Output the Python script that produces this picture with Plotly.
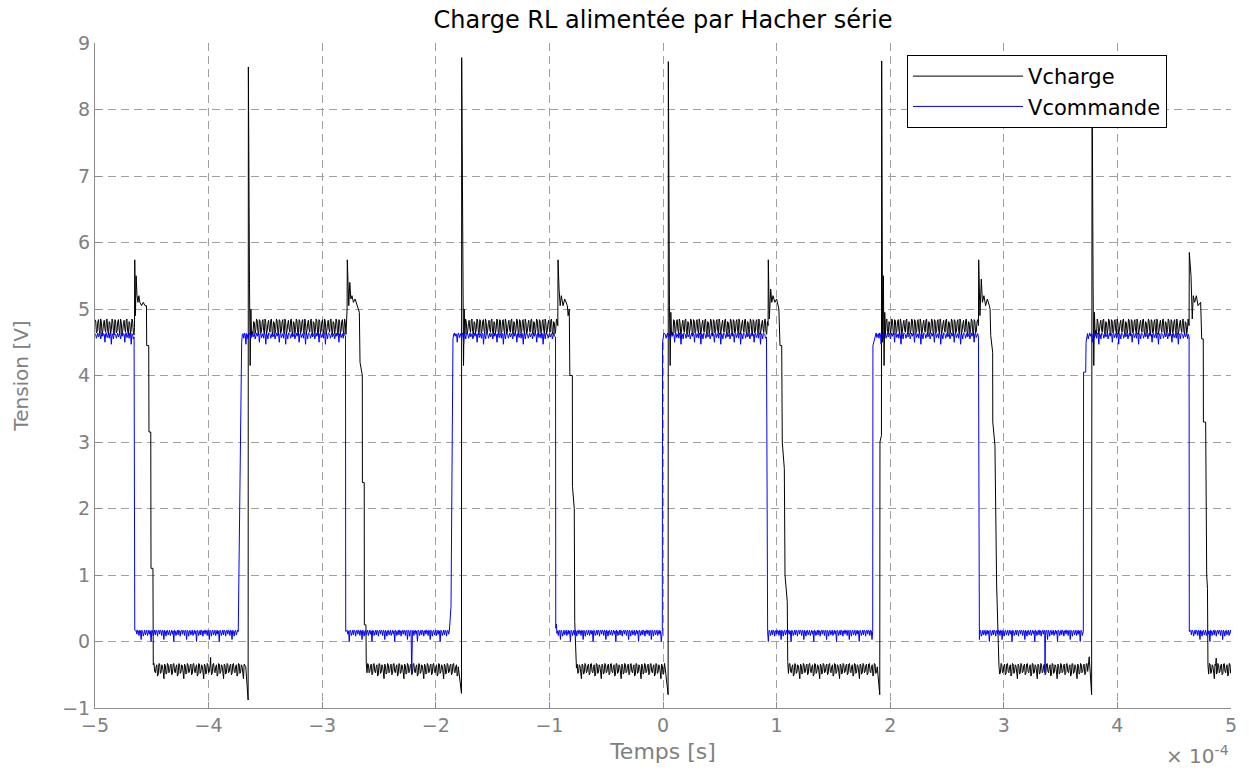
import plotly.graph_objects as go

# Time is expressed in units of 1e-4 s (the axis carries the "x 10^-4" factor).
T_START, T_END = -5.0, 5.0
DT = 0.00625  # spacing of the switching-ripple samples on the plateaus

X_TICKS = [-5, -4, -3, -2, -1, 0, 1, 2, 3, 4, 5]
Y_TICKS = [-1, 0, 1, 2, 3, 4, 5, 6, 7, 8, 9]

# ---------------- Vcharge (load voltage) ----------------
# Ripple samples on the "on" and "off" plateaus
CHARGE_HI_RIPPLE = [4.84, 4.82, 4.64, 4.66, 4.81, 4.84, 4.68, 4.63, 4.85, 4.80,
                    4.62, 4.67, 4.78, 4.83, 4.70, 4.65, 4.83, 4.85, 4.66, 4.62,
                    4.81, 4.79, 4.63, 4.69, 4.85, 4.82, 4.65, 4.61]
CHARGE_LO_RIPPLE = [-0.33, -0.35, -0.47, -0.45, -0.36, -0.34, -0.50, -0.48, -0.34, -0.33,
                    -0.45, -0.47, -0.38, -0.35, -0.52, -0.49, -0.33, -0.34, -0.48, -0.46,
                    -0.35, -0.37, -0.46, -0.56, -0.34, -0.36, -0.49, -0.47]

# Turn-off transitions: (time, voltage)
CHARGE_FALLS = [
    [(-4.652, 4.72), (-4.650, 5.74), (-4.644, 4.90), (-4.638, 5.50), (-4.630, 5.20),
     (-4.622, 5.10), (-4.614, 5.20), (-4.605, 5.10), (-4.590, 5.05), (-4.575, 5.10),
     (-4.560, 5.05), (-4.547, 5.05), (-4.545, 4.45), (-4.527, 4.45), (-4.525, 3.15),
     (-4.509, 3.15), (-4.507, 1.10), (-4.490, 1.10), (-4.487, -0.35)],
    [(-2.786, 4.75), (-2.781, 5.00), (-2.779, 5.74), (-2.766, 5.05), (-2.757, 5.40),
     (-2.748, 5.15), (-2.738, 5.20), (-2.725, 5.10), (-2.710, 5.15), (-2.691, 5.05),
     (-2.673, 4.95), (-2.667, 4.20), (-2.647, 4.00), (-2.646, 2.39), (-2.630, 2.39),
     (-2.629, 0.25), (-2.615, 0.25), (-2.612, -0.33)],
    [(-0.926, 4.75), (-0.924, 5.74), (-0.915, 5.30), (-0.905, 5.05), (-0.895, 5.20),
     (-0.880, 5.05), (-0.865, 5.15), (-0.842, 5.05), (-0.835, 4.90), (-0.825, 5.00),
     (-0.820, 4.00), (-0.798, 4.00), (-0.797, 2.33), (-0.781, 2.00), (-0.777, 0.30),
     (-0.768, -0.25), (-0.762, -0.40)],
    [(0.925, 4.75), (0.927, 5.74), (0.936, 4.85), (0.948, 5.30), (0.958, 5.10),
     (0.968, 5.20), (0.985, 5.10), (1.000, 5.15), (1.020, 5.00), (1.030, 4.45),
     (1.045, 4.45), (1.050, 3.00), (1.068, 2.60), (1.074, 1.00), (1.094, 0.60),
     (1.098, -0.30)],
    [(2.777, 4.75), (2.779, 5.74), (2.790, 4.90), (2.802, 5.45), (2.812, 5.10),
     (2.825, 5.20), (2.840, 5.05), (2.855, 5.15), (2.873, 5.05), (2.879, 5.00),
     (2.885, 4.60), (2.902, 4.35), (2.903, 3.30), (2.922, 2.95), (2.937, 0.85),
     (2.951, -0.35)],
    [(4.631, 4.75), (4.633, 5.85), (4.648, 5.50), (4.659, 4.85), (4.668, 5.20),
     (4.680, 5.10), (4.695, 5.20), (4.710, 5.05), (4.733, 5.10), (4.742, 4.55),
     (4.756, 4.55), (4.757, 3.30), (4.777, 3.30), (4.786, 1.00), (4.793, 0.80),
     (4.797, -0.35)],
]

# Turn-on transitions with the overshoot spike and ringing
CHARGE_RISES = [
    [(-3.673, -0.38), (-3.652, -0.88), (-3.650, 8.64), (-3.640, 5.38), (-3.634, 4.15),
     (-3.628, 5.00), (-3.622, 4.60)],
    [(-1.802, -0.38), (-1.774, -0.78), (-1.772, 8.78), (-1.762, 5.35), (-1.756, 4.15),
     (-1.750, 5.00), (-1.744, 4.62)],
    [(0.018, -0.38), (0.045, -0.80), (0.047, 8.72), (0.057, 5.05), (0.063, 4.15),
     (0.069, 4.95), (0.075, 4.62)],
    [(1.886, -0.38), (1.908, -0.80), (1.910, 3.00), (1.923, 3.10), (1.925, 8.73),
     (1.933, 4.50), (1.940, 5.50), (1.946, 4.15), (1.952, 4.95), (1.958, 4.62)],
    [(3.744, -0.38), (3.752, -0.23), (3.773, -0.80), (3.777, 8.70), (3.786, 5.35),
     (3.792, 4.15), (3.798, 4.95), (3.804, 4.62)],
]

CHARGE_GLITCHES = [(-3.982, -0.24), (4.870, -0.25)]

# ---------------- Vcommande (gate command) ----------------
CMD_HI_RIPPLE = [4.63, 4.62, 4.56, 4.63, 4.64, 4.58, 4.62, 4.63, 4.55, 4.62,
                 4.64, 4.59, 4.63, 4.62, 4.50, 4.63, 4.64, 4.57, 4.62, 4.63,
                 4.56, 4.64, 4.62, 4.47, 4.63, 4.61, 4.55, 4.64]
CMD_LO_RIPPLE = [0.17, 0.16, 0.09, 0.16, 0.17, 0.10, 0.17, 0.16, 0.08, 0.16,
                 0.17, 0.11, 0.17, 0.16, 0.09, 0.17, 0.16, 0.03, 0.17, 0.15,
                 0.08, 0.16, 0.17, 0.10, 0.16, 0.17, 0.09, 0.16, 0.17, 0.11,
                 0.16, 0.00]

CMD_FALLS = [
    [(-4.656, 4.58), (-4.650, 0.17)],
    [(-2.795, 4.58), (-2.793, 0.15)],
    [(-0.946, 4.58), (-0.944, 0.20), (-0.938, 0.26), (-0.934, 0.12)],
    [(0.911, 4.58), (0.921, 0.15)],
    [(2.777, 4.58), (2.779, 0.15)],
    [(4.631, 4.58), (4.633, 0.15)],
]

CMD_RISES = [
    [(-3.739, 0.15), (-3.715, 4.15), (-3.709, 4.50)],
    [(-1.881, 0.15), (-1.866, 0.53), (-1.855, 4.50)],
    [(-0.006, 0.15), (-0.004, 4.50)],
    [(1.846, 0.15), (1.848, 4.45), (1.870, 4.60)],
    [(3.700, 0.15), (3.702, 4.05), (3.721, 4.05), (3.724, 4.50)],
]

CMD_GLITCHES = [(-2.212, -0.47), (3.363, -0.47)]


def plateau(t0, t1, ripple, offset):
    """Ripple samples strictly between t0 and t1."""
    xs, ys = [], []
    k = 0
    t = t0 + DT
    while t < t1 - DT / 2:
        xs.append(round(t, 5))
        ys.append(ripple[(offset + k) % len(ripple)])
        t += DT
        k += 1
    return xs, ys


def assemble(falls, rises, hi, lo, glitches):
    edges = []
    for i, f in enumerate(falls):
        edges.append(f)
        if i < len(rises):
            edges.append(rises[i])
    xs, ys = [], []
    prev_end = T_START - DT
    ripple = hi
    for n, edge in enumerate(edges):
        px, py = plateau(prev_end, edge[0][0], ripple, 9 * n)
        xs += px
        ys += py
        xs += [p[0] for p in edge]
        ys += [p[1] for p in edge]
        prev_end = edge[-1][0]
        ripple = lo if ripple is hi else hi
    px, py = plateau(prev_end, T_END + DT, ripple, 9 * len(edges))
    xs += px
    ys += py
    pts = sorted(list(zip(xs, ys)) + list(glitches))
    return [p[0] for p in pts], [p[1] for p in pts]


charge_t, charge_v = assemble(CHARGE_FALLS, CHARGE_RISES,
                              CHARGE_HI_RIPPLE, CHARGE_LO_RIPPLE, CHARGE_GLITCHES)
cmd_t, cmd_v = assemble(CMD_FALLS, CMD_RISES,
                        CMD_HI_RIPPLE, CMD_LO_RIPPLE, CMD_GLITCHES)

FONT = "DejaVu Sans"
GREY_TXT = "#808080"
GRID = "#a0a0a0"
AXIS = "#8c8c8c"

fig = go.Figure()
fig.add_trace(go.Scatter(x=charge_t, y=charge_v, mode="lines", name="Vcharge",
                         line=dict(color="black", width=1)))
fig.add_trace(go.Scatter(x=cmd_t, y=cmd_v, mode="lines", name="Vcommande",
                         line=dict(color="#0000ff", width=1)))

axis_common = dict(
    showgrid=True, gridcolor=GRID, gridwidth=1, griddash="8px,5px",
    showline=True, linecolor=AXIS, linewidth=1, mirror=False,
    ticks="inside", ticklen=6, tickcolor=AXIS,
    tickfont=dict(family=FONT, size=19, color=GREY_TXT),
    zeroline=False,
)

fig.update_layout(
    width=1249, height=773, autosize=False,
    margin=dict(l=95, r=18, t=43, b=65),
    paper_bgcolor="white", plot_bgcolor="white",
    title=dict(text="Charge RL alimentée par Hacher série",
               x=0.5, xref="paper", y=0.974, yref="container", yanchor="middle",
               font=dict(family=FONT, size=24, color="black")),
    xaxis=dict(range=[T_START, T_END], tickvals=X_TICKS,
               ticktext=[str(v).replace("-", "\u2212") for v in X_TICKS],
               title=dict(text="Temps [s]", standoff=8,
                          font=dict(family=FONT, size=22, color=GREY_TXT)),
               **axis_common),
    yaxis=dict(range=[-1, 9], tickvals=Y_TICKS,
               title=dict(text="Tension [V]", standoff=28,
                          font=dict(family=FONT, size=20, color=GREY_TXT)),
               **axis_common),
    legend=dict(x=0.7148, y=0.982, xanchor="left", yanchor="top",
                bgcolor="white", bordercolor="black", borderwidth=1,
                itemwidth=110, tracegroupgap=0,
                font=dict(family=FONT, size=21, color="black")),
    showlegend=True,
    annotations=[dict(text="× 10<sup>-4</sup>", xref="paper", yref="paper",
                      x=1.0, y=-0.071, xanchor="right", yanchor="middle",
                      showarrow=False,
                      font=dict(family=FONT, size=20, color=GREY_TXT))],
)

fig.write_html("out.html")
